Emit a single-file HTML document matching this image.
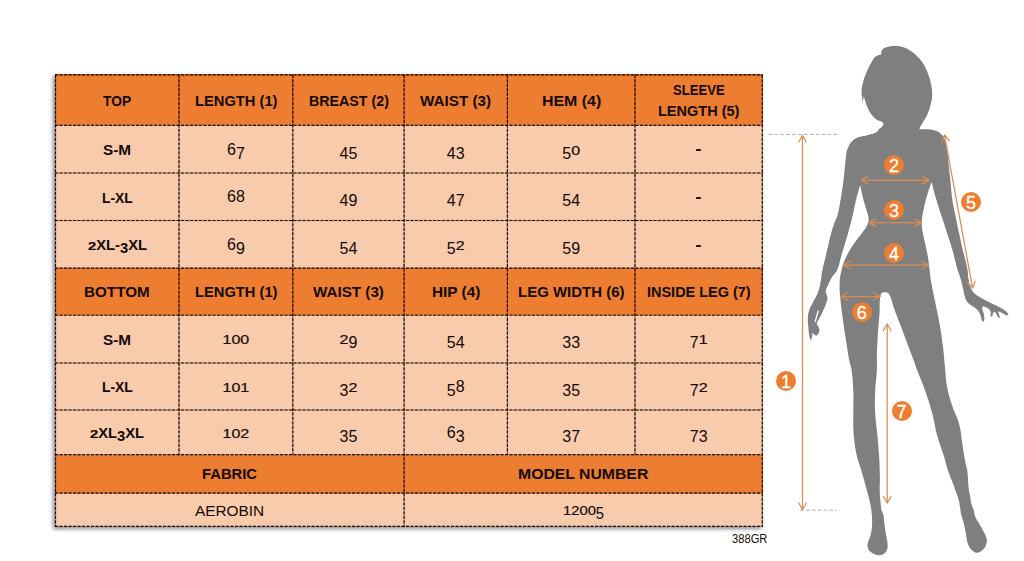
<!DOCTYPE html>
<html><head><meta charset="utf-8"><title>Size chart</title>
<style>
html,body{margin:0;padding:0;background:#fff;}
body{width:1024px;height:561px;position:relative;overflow:hidden;font-family:"Liberation Sans",sans-serif;color:#140a06;}
.bg{position:absolute;}
.o{background:#ED7D31;}
.l{background:#F8CBAD;}
.t{position:absolute;white-space:nowrap;line-height:1;transform-origin:0 0;}
.b{font-weight:bold;}
.d{display:inline-block;line-height:1;}
svg{position:absolute;left:0;top:0;}
</style></head>
<body>
<div class="bg" style="left:55.0px;top:74.3px;width:707.8px;height:452.6px;background:#F8CBAD;box-shadow:-2px 2px 4px rgba(60,62,80,.6)"></div>
<div class="bg o" style="left:55.0px;top:74.3px;width:707.8px;height:51.1px"></div>
<div class="bg l" style="left:55.0px;top:125.4px;width:707.8px;height:47.6px"></div>
<div class="bg l" style="left:55.0px;top:173.0px;width:707.8px;height:47.5px"></div>
<div class="bg l" style="left:55.0px;top:220.5px;width:707.8px;height:47.6px"></div>
<div class="bg o" style="left:55.0px;top:268.1px;width:707.8px;height:47.1px"></div>
<div class="bg l" style="left:55.0px;top:315.2px;width:707.8px;height:47.8px"></div>
<div class="bg l" style="left:55.0px;top:363.0px;width:707.8px;height:47.0px"></div>
<div class="bg l" style="left:55.0px;top:410.0px;width:707.8px;height:44.6px"></div>
<div class="bg o" style="left:55.0px;top:454.6px;width:707.8px;height:38.5px"></div>
<div class="bg l" style="left:55.0px;top:493.1px;width:707.8px;height:33.8px"></div>
<div class="t b" style="left:103.20px;top:94.03px;font-size:14.5px;transform:scaleX(0.9500)">TOP</div>
<div class="t b" style="left:194.65px;top:94.03px;font-size:14.5px;transform:scaleX(1.0142)">LENGTH (1)</div>
<div class="t b" style="left:308.50px;top:94.03px;font-size:14.5px;transform:scaleX(0.9822)">BREAST (2)</div>
<div class="t b" style="left:420.25px;top:94.03px;font-size:14.5px;transform:scaleX(1.0496)">WAIST (3)</div>
<div class="t b" style="left:541.60px;top:94.03px;font-size:14.5px;transform:scaleX(1.0975)">HEM (4)</div>
<div class="t b" style="left:672.85px;top:82.73px;font-size:14.5px;transform:scaleX(0.9021)">SLEEVE</div>
<div class="t b" style="left:657.95px;top:104.23px;font-size:14.5px;transform:scaleX(1.0007)">LENGTH (5)</div>
<div class="t b" style="left:84.40px;top:285.03px;font-size:14.5px;transform:scaleX(1.0501)">BOTTOM</div>
<div class="t b" style="left:194.65px;top:285.03px;font-size:14.5px;transform:scaleX(1.0142)">LENGTH (1)</div>
<div class="t b" style="left:313.00px;top:285.03px;font-size:14.5px;transform:scaleX(1.0482)">WAIST (3)</div>
<div class="t b" style="left:431.55px;top:285.03px;font-size:14.5px;transform:scaleX(1.0597)">HIP (4)</div>
<div class="t b" style="left:517.95px;top:285.03px;font-size:14.5px;transform:scaleX(1.0330)">LEG WIDTH (6)</div>
<div class="t b" style="left:646.80px;top:285.03px;font-size:14.5px;transform:scaleX(0.9975)">INSIDE LEG (7)</div>
<div class="t b" style="left:202.30px;top:467.13px;font-size:14.5px;transform:scaleX(1.0197)">FABRIC</div>
<div class="t b" style="left:518.05px;top:467.33px;font-size:14.5px;transform:scaleX(1.0879)">MODEL NUMBER</div>
<div class="t" style="left:195.20px;top:503.40px;font-size:15px;transform:scaleX(1.0252)">AEROBIN</div>
<div class="t" style="left:562.70px;top:502.26px;font-size:16px;transform:scaleX(0.9218)"><span class="d" style="transform:scaleY(.81);transform-origin:50% 84.65%;-webkit-text-stroke:.25px #140a06">1</span><span class="d" style="transform:scaleY(.81);transform-origin:50% 84.65%;-webkit-text-stroke:.25px #140a06">2</span><span class="d" style="transform:scaleY(.81);transform-origin:50% 84.65%;-webkit-text-stroke:.25px #140a06">0</span><span class="d" style="transform:scaleY(.81);transform-origin:50% 84.65%;-webkit-text-stroke:.25px #140a06">0</span><span class="d" style="transform:translateY(.24em)">5</span></div>
<div class="t" style="left:731.60px;top:533.04px;font-size:12px;transform:scaleX(0.9306)">388GR</div>
<div class="t b" style="left:103.20px;top:143.03px;font-size:14.5px;transform:scaleX(1.0561)">S-M</div>
<div class="t b" style="left:101.90px;top:190.53px;font-size:14.5px;transform:scaleX(0.9537)">L-XL</div>
<div class="t b" style="left:87.80px;top:238.43px;font-size:14.5px;transform:scaleX(1.0155)"><span class="d" style="transform:scaleY(.81);transform-origin:50% 84.65%;-webkit-text-stroke:.25px #140a06">2</span><span class="d">X</span><span class="d">L</span><span class="d">-</span><span class="d" style="transform:translateY(.24em)">3</span><span class="d">X</span><span class="d">L</span></div>
<div class="t b" style="left:103.20px;top:332.73px;font-size:14.5px;transform:scaleX(1.0561)">S-M</div>
<div class="t b" style="left:101.90px;top:380.03px;font-size:14.5px;transform:scaleX(0.9537)">L-XL</div>
<div class="t b" style="left:90.20px;top:426.03px;font-size:14.5px;transform:scaleX(1.0166)"><span class="d" style="transform:scaleY(.81);transform-origin:50% 84.65%;-webkit-text-stroke:.25px #140a06">2</span><span class="d">X</span><span class="d">L</span><span class="d" style="transform:translateY(.24em)">3</span><span class="d">X</span><span class="d">L</span></div>
<div class="t" style="left:227.02px;top:141.66px;font-size:16px;transform:scaleX(1.0000)"><span class="d">6</span><span class="d" style="transform:translateY(.24em)">7</span></div>
<div class="t" style="left:339.57px;top:141.66px;font-size:16px;transform:scaleX(1.0000)"><span class="d" style="transform:translateY(.24em)">4</span><span class="d" style="transform:translateY(.24em)">5</span></div>
<div class="t" style="left:446.87px;top:141.66px;font-size:16px;transform:scaleX(1.0000)"><span class="d" style="transform:translateY(.24em)">4</span><span class="d" style="transform:translateY(.24em)">3</span></div>
<div class="t" style="left:562.32px;top:141.66px;font-size:16px;transform:scaleX(1.0000)"><span class="d" style="transform:translateY(.24em)">5</span><span class="d" style="transform:scaleY(.81);transform-origin:50% 84.65%;-webkit-text-stroke:.25px #140a06">0</span></div>
<div class="bg" style="left:696.0px;top:149px;width:5.2px;height:2px;background:#2a140c;border-radius:.6px"></div>
<div class="t" style="left:227.02px;top:189.16px;font-size:16px;transform:scaleX(1.0000)"><span class="d">6</span><span class="d">8</span></div>
<div class="t" style="left:339.57px;top:189.16px;font-size:16px;transform:scaleX(1.0000)"><span class="d" style="transform:translateY(.24em)">4</span><span class="d" style="transform:translateY(.24em)">9</span></div>
<div class="t" style="left:446.87px;top:189.16px;font-size:16px;transform:scaleX(1.0000)"><span class="d" style="transform:translateY(.24em)">4</span><span class="d" style="transform:translateY(.24em)">7</span></div>
<div class="t" style="left:562.32px;top:189.16px;font-size:16px;transform:scaleX(1.0000)"><span class="d" style="transform:translateY(.24em)">5</span><span class="d" style="transform:translateY(.24em)">4</span></div>
<div class="bg" style="left:696.0px;top:197px;width:5.2px;height:2px;background:#2a140c;border-radius:.6px"></div>
<div class="t" style="left:227.02px;top:237.06px;font-size:16px;transform:scaleX(1.0000)"><span class="d">6</span><span class="d" style="transform:translateY(.24em)">9</span></div>
<div class="t" style="left:339.57px;top:237.06px;font-size:16px;transform:scaleX(1.0000)"><span class="d" style="transform:translateY(.24em)">5</span><span class="d" style="transform:translateY(.24em)">4</span></div>
<div class="t" style="left:446.87px;top:237.06px;font-size:16px;transform:scaleX(1.0000)"><span class="d" style="transform:translateY(.24em)">5</span><span class="d" style="transform:scaleY(.81);transform-origin:50% 84.65%;-webkit-text-stroke:.25px #140a06">2</span></div>
<div class="t" style="left:562.32px;top:237.06px;font-size:16px;transform:scaleX(1.0000)"><span class="d" style="transform:translateY(.24em)">5</span><span class="d" style="transform:translateY(.24em)">9</span></div>
<div class="bg" style="left:696.0px;top:245px;width:5.2px;height:2px;background:#2a140c;border-radius:.6px"></div>
<div class="t" style="left:222.54px;top:331.36px;font-size:16px;transform:scaleX(1.0000)"><span class="d" style="transform:scaleY(.81);transform-origin:50% 84.65%;-webkit-text-stroke:.25px #140a06">1</span><span class="d" style="transform:scaleY(.81);transform-origin:50% 84.65%;-webkit-text-stroke:.25px #140a06">0</span><span class="d" style="transform:scaleY(.81);transform-origin:50% 84.65%;-webkit-text-stroke:.25px #140a06">0</span></div>
<div class="t" style="left:339.57px;top:331.36px;font-size:16px;transform:scaleX(1.0000)"><span class="d" style="transform:scaleY(.81);transform-origin:50% 84.65%;-webkit-text-stroke:.25px #140a06">2</span><span class="d" style="transform:translateY(.24em)">9</span></div>
<div class="t" style="left:446.87px;top:331.36px;font-size:16px;transform:scaleX(1.0000)"><span class="d" style="transform:translateY(.24em)">5</span><span class="d" style="transform:translateY(.24em)">4</span></div>
<div class="t" style="left:562.32px;top:331.36px;font-size:16px;transform:scaleX(1.0000)"><span class="d" style="transform:translateY(.24em)">3</span><span class="d" style="transform:translateY(.24em)">3</span></div>
<div class="t" style="left:689.77px;top:331.36px;font-size:16px;transform:scaleX(1.0000)"><span class="d" style="transform:translateY(.24em)">7</span><span class="d" style="transform:scaleY(.81);transform-origin:50% 84.65%;-webkit-text-stroke:.25px #140a06">1</span></div>
<div class="t" style="left:222.54px;top:378.66px;font-size:16px;transform:scaleX(1.0000)"><span class="d" style="transform:scaleY(.81);transform-origin:50% 84.65%;-webkit-text-stroke:.25px #140a06">1</span><span class="d" style="transform:scaleY(.81);transform-origin:50% 84.65%;-webkit-text-stroke:.25px #140a06">0</span><span class="d" style="transform:scaleY(.81);transform-origin:50% 84.65%;-webkit-text-stroke:.25px #140a06">1</span></div>
<div class="t" style="left:339.57px;top:378.66px;font-size:16px;transform:scaleX(1.0000)"><span class="d" style="transform:translateY(.24em)">3</span><span class="d" style="transform:scaleY(.81);transform-origin:50% 84.65%;-webkit-text-stroke:.25px #140a06">2</span></div>
<div class="t" style="left:446.87px;top:378.66px;font-size:16px;transform:scaleX(1.0000)"><span class="d" style="transform:translateY(.24em)">5</span><span class="d">8</span></div>
<div class="t" style="left:562.32px;top:378.66px;font-size:16px;transform:scaleX(1.0000)"><span class="d" style="transform:translateY(.24em)">3</span><span class="d" style="transform:translateY(.24em)">5</span></div>
<div class="t" style="left:689.77px;top:378.66px;font-size:16px;transform:scaleX(1.0000)"><span class="d" style="transform:translateY(.24em)">7</span><span class="d" style="transform:scaleY(.81);transform-origin:50% 84.65%;-webkit-text-stroke:.25px #140a06">2</span></div>
<div class="t" style="left:222.54px;top:424.66px;font-size:16px;transform:scaleX(1.0000)"><span class="d" style="transform:scaleY(.81);transform-origin:50% 84.65%;-webkit-text-stroke:.25px #140a06">1</span><span class="d" style="transform:scaleY(.81);transform-origin:50% 84.65%;-webkit-text-stroke:.25px #140a06">0</span><span class="d" style="transform:scaleY(.81);transform-origin:50% 84.65%;-webkit-text-stroke:.25px #140a06">2</span></div>
<div class="t" style="left:339.57px;top:424.66px;font-size:16px;transform:scaleX(1.0000)"><span class="d" style="transform:translateY(.24em)">3</span><span class="d" style="transform:translateY(.24em)">5</span></div>
<div class="t" style="left:446.87px;top:424.66px;font-size:16px;transform:scaleX(1.0000)"><span class="d">6</span><span class="d" style="transform:translateY(.24em)">3</span></div>
<div class="t" style="left:562.32px;top:424.66px;font-size:16px;transform:scaleX(1.0000)"><span class="d" style="transform:translateY(.24em)">3</span><span class="d" style="transform:translateY(.24em)">7</span></div>
<div class="t" style="left:689.77px;top:424.66px;font-size:16px;transform:scaleX(1.0000)"><span class="d" style="transform:translateY(.24em)">7</span><span class="d" style="transform:translateY(.24em)">3</span></div>
<svg width="1024" height="561" viewBox="0 0 1024 561">
<g stroke="rgba(50,18,4,.22)" stroke-width="1.3" fill="none">
<line x1="55.0" y1="74.8" x2="762.8" y2="74.8"/>
<line x1="55.0" y1="125.4" x2="762.8" y2="125.4"/>
<line x1="55.0" y1="173.0" x2="762.8" y2="173.0"/>
<line x1="55.0" y1="220.5" x2="762.8" y2="220.5"/>
<line x1="55.0" y1="268.1" x2="762.8" y2="268.1"/>
<line x1="55.0" y1="315.2" x2="762.8" y2="315.2"/>
<line x1="55.0" y1="363.0" x2="762.8" y2="363.0"/>
<line x1="55.0" y1="410.0" x2="762.8" y2="410.0"/>
<line x1="55.0" y1="454.6" x2="762.8" y2="454.6"/>
<line x1="55.0" y1="493.1" x2="762.8" y2="493.1"/>
<line x1="55.0" y1="526.4" x2="762.8" y2="526.4"/>
<line x1="55.5" y1="74.8" x2="55.5" y2="526.4"/>
<line x1="179.0" y1="74.8" x2="179.0" y2="454.6"/>
<line x1="292.8" y1="74.8" x2="292.8" y2="454.6"/>
<line x1="404.1" y1="74.8" x2="404.1" y2="526.4"/>
<line x1="507.4" y1="74.8" x2="507.4" y2="454.6"/>
<line x1="635.0" y1="74.8" x2="635.0" y2="454.6"/>
<line x1="762.3" y1="74.8" x2="762.3" y2="526.4"/>
</g>
<g stroke="#1a0a04" stroke-width="1.15" stroke-dasharray="3.1 1.4" fill="none">
<line x1="55.0" y1="74.8" x2="762.8" y2="74.8"/>
<line x1="55.0" y1="125.4" x2="762.8" y2="125.4"/>
<line x1="55.0" y1="173.0" x2="762.8" y2="173.0"/>
<line x1="55.0" y1="220.5" x2="762.8" y2="220.5"/>
<line x1="55.0" y1="268.1" x2="762.8" y2="268.1"/>
<line x1="55.0" y1="315.2" x2="762.8" y2="315.2"/>
<line x1="55.0" y1="363.0" x2="762.8" y2="363.0"/>
<line x1="55.0" y1="410.0" x2="762.8" y2="410.0"/>
<line x1="55.0" y1="454.6" x2="762.8" y2="454.6"/>
<line x1="55.0" y1="493.1" x2="762.8" y2="493.1"/>
<line x1="55.0" y1="526.4" x2="762.8" y2="526.4"/>
<line x1="55.5" y1="74.8" x2="55.5" y2="526.4"/>
<line x1="179.0" y1="74.8" x2="179.0" y2="454.6"/>
<line x1="292.8" y1="74.8" x2="292.8" y2="454.6"/>
<line x1="404.1" y1="74.8" x2="404.1" y2="526.4"/>
<line x1="507.4" y1="74.8" x2="507.4" y2="454.6"/>
<line x1="635.0" y1="74.8" x2="635.0" y2="454.6"/>
<line x1="762.3" y1="74.8" x2="762.3" y2="526.4"/>
</g>
<g fill="#7f7f7f"><path d="M894.9 45.9C898.4 45.9 899.3 45.8 902.7 46.9C906.5 48.1 907.3 48.6 910.6 50.8C914.4 53.4 915.2 54.2 918.4 57.6C921.4 60.8 922.1 61.7 924.3 65.5C926.7 69.7 927.0 70.8 928.6 75.3C930.1 79.6 930.4 80.6 931.2 85.1C932.0 89.5 932.3 90.5 932.2 94.9C932.1 99.4 931.7 100.4 930.6 104.7C929.5 109.2 929.2 110.2 927.3 114.5C925.5 118.6 924.5 119.3 922.4 123.3C921.0 125.9 920.0 126.3 919.4 129.2C918.4 134.0 923.7 138.7 919.0 140.0C905.9 143.6 892.5 144.1 880.0 140.0C874.7 138.3 880.5 133.2 881.6 127.8C882.0 125.6 884.4 125.1 883.3 123.2C881.9 120.6 879.8 121.8 877.3 120.0C874.4 117.9 873.7 117.3 871.4 114.5C869.2 111.7 869.0 110.8 867.5 107.6C866.1 104.7 866.1 103.9 865.1 100.8C864.4 98.6 863.9 95.9 863.9 95.9C863.9 95.9 862.5 102.7 862.5 102.7C862.5 102.7 862.3 100.6 862.2 98.8C861.9 95.3 861.4 94.5 861.6 91.0C861.8 87.0 862.1 86.1 863.1 82.2C864.3 77.7 864.7 76.7 866.5 72.4C868.4 67.8 869.0 66.8 871.4 62.5C872.9 59.8 872.8 58.7 875.3 56.7C877.5 55.0 881.2 54.7 881.2 54.7C881.2 54.7 880.8 51.6 882.2 49.8C883.7 47.8 884.7 47.7 887.1 46.9C890.5 45.9 891.4 45.9 894.9 45.9Z"/><path d="M900.0 127.0C908.8 127.4 910.6 128.5 919.4 129.2C922.5 129.5 923.2 129.0 926.3 129.2C929.8 129.4 930.7 129.2 934.1 130.2C936.9 131.0 937.7 131.3 940.0 133.1C942.2 134.9 942.7 135.4 943.9 138.0C945.4 141.3 945.9 142.2 945.9 145.9C945.9 154.5 947.2 157.0 944.0 165.0C940.5 173.9 931.5 182.2 931.5 182.2C931.5 182.2 929.2 188.1 927.8 193.0C925.6 200.7 925.1 202.4 923.5 210.2C922.4 215.9 921.8 217.2 921.8 223.0C921.8 228.9 922.5 230.2 923.5 236.0C924.7 242.8 925.5 244.2 926.8 251.0C927.9 256.8 928.1 258.1 928.9 264.0C930.0 271.9 929.8 273.7 931.1 281.5C932.7 291.2 933.5 293.3 935.4 303.0C937.3 312.6 938.0 314.7 939.7 324.4C941.4 334.1 941.7 336.2 942.9 346.0C944.1 355.6 944.0 357.8 945.0 367.4C945.9 376.3 945.5 378.4 947.2 387.2C948.9 396.0 949.7 397.9 952.5 406.5C955.0 414.4 956.9 415.7 959.0 423.7C961.3 432.2 960.8 434.3 962.2 443.0C963.6 451.7 963.8 453.7 965.4 462.4C966.0 465.9 966.8 466.5 967.2 470.0C968.3 479.0 967.9 481.4 968.9 490.0C969.2 492.7 969.6 493.2 970.1 495.9C970.8 499.8 970.6 500.7 971.6 504.6C972.3 507.3 973.0 507.8 973.8 510.5C974.6 513.1 974.2 513.9 975.2 516.4C976.5 519.6 977.2 520.0 978.9 523.0C980.9 526.6 981.5 527.3 983.3 531.0C984.9 534.2 985.7 534.8 986.5 538.3C987.1 540.9 987.0 541.7 986.2 544.2C985.2 547.2 984.8 547.9 982.6 550.1C980.7 551.9 980.0 552.3 977.4 552.7C975.7 553.0 975.2 552.5 973.8 551.5C971.5 549.9 970.9 549.5 969.4 547.1C967.9 544.8 967.9 544.0 967.2 541.3C966.2 537.4 966.5 536.4 965.7 532.5C964.8 527.8 964.6 526.8 963.5 522.2C962.7 518.9 962.1 518.2 961.3 514.9C960.5 511.7 960.7 510.9 960.1 507.6C959.4 503.6 959.5 502.7 958.4 498.8C957.3 494.7 956.6 494.0 955.2 490.0C954.4 487.8 954.4 487.2 953.6 485.0C951.1 478.3 950.1 476.9 947.8 470.0C945.7 463.8 945.8 462.2 943.9 456.0C941.2 447.2 939.9 445.5 937.5 436.6C934.6 426.1 935.0 423.5 932.1 413.0C929.2 402.2 928.3 399.9 924.6 389.3C921.5 380.5 920.4 378.7 917.1 370.0C915.6 366.0 915.4 365.0 913.9 361.0C911.0 353.2 910.3 351.5 907.4 343.8C904.5 336.1 903.9 334.3 901.0 326.6C898.1 318.9 897.3 317.2 894.5 309.4C892.0 302.7 892.4 300.1 889.2 294.4C888.2 292.6 887.1 292.3 885.0 292.3C882.9 292.3 881.3 292.4 880.8 294.4C879.0 301.5 880.1 305.0 879.5 313.7C878.8 323.4 878.4 325.5 877.8 335.2C877.2 344.9 877.2 347.0 876.9 356.7C876.7 362.7 877.2 364.0 876.9 370.0C876.4 379.7 875.6 381.8 875.2 391.5C874.8 401.2 874.7 403.3 875.2 413.0C875.7 422.7 876.4 424.8 877.3 434.5C878.2 444.2 878.5 446.3 879.1 456.0C879.7 465.6 879.7 467.8 879.9 477.4C880.0 483.1 879.6 484.3 879.7 490.0C879.8 495.3 880.0 496.4 880.5 501.7C880.8 505.7 881.5 510.5 881.5 510.5C881.5 510.5 882.9 512.8 883.4 514.9C884.3 518.8 883.9 519.7 884.4 523.7C885.0 528.3 885.2 529.3 885.9 533.9C886.5 537.9 887.2 538.7 887.4 542.7C887.6 546.0 888.1 547.0 886.9 550.1C886.0 552.5 885.3 553.1 883.0 554.2C880.6 555.4 879.7 555.3 877.1 554.9C874.2 554.4 873.5 554.1 871.2 552.3C869.2 550.8 868.7 550.2 867.9 547.9C867.1 545.7 867.4 545.0 867.9 542.7C868.6 539.3 869.7 538.8 870.5 535.4C871.6 530.9 871.7 529.8 872.0 525.2C872.3 519.9 872.2 518.7 871.7 513.4C871.2 508.1 870.9 506.9 869.8 501.7C868.7 496.4 868.2 495.2 866.8 490.0C864.4 481.0 863.8 479.0 861.2 470.0C859.4 463.7 858.3 462.4 856.9 456.0C854.9 446.4 854.5 444.2 853.7 434.5C852.9 424.9 853.4 422.7 853.3 413.0C853.2 403.3 853.7 401.2 853.3 391.5C852.9 381.8 852.8 379.6 851.6 370.0C851.1 365.9 850.2 365.1 849.4 361.0C847.7 352.3 847.6 350.3 846.2 341.6C844.7 332.0 844.3 329.8 843.0 320.2C841.7 310.5 841.2 308.4 840.4 298.7C839.7 291.0 839.4 289.2 839.7 281.5C839.9 276.3 840.4 275.1 841.6 270.0C842.6 265.6 842.9 264.7 844.6 260.5C846.3 256.2 846.9 255.3 849.2 251.2C851.6 246.9 852.3 246.0 855.1 242.0C858.1 237.7 859.1 237.0 862.2 232.7C864.4 229.6 865.3 229.1 866.9 225.7C868.2 222.8 868.7 222.0 868.6 218.8C868.4 214.5 867.4 213.7 866.3 209.5C864.9 204.3 864.3 203.2 863.0 197.9C861.6 192.3 860.2 185.3 860.2 185.3C860.2 185.3 853.7 176.2 850.0 168.0C847.4 162.3 846.7 160.8 846.4 154.5C846.2 150.7 847.3 149.8 848.8 146.3C849.9 143.7 850.3 143.1 852.3 141.1C854.3 139.1 854.9 138.6 857.6 137.5C861.6 135.9 862.8 136.4 867.0 135.2C871.2 134.0 872.4 134.3 876.3 132.3C879.1 130.8 878.5 128.3 881.6 127.6C889.5 125.8 891.7 126.6 900.0 127.0Z"/><path d="M860.0 143.0C860.0 143.0 846.4 154.5 846.4 154.5C846.4 154.5 845.7 159.0 845.3 162.7C844.5 170.2 844.5 171.9 843.6 179.4C843.0 184.6 842.8 185.8 842.0 191.0C841.2 196.2 841.0 197.4 840.1 202.6C839.2 207.8 839.2 209.1 837.8 214.2C836.6 218.5 835.8 219.2 834.3 223.4C832.8 227.5 832.5 228.5 831.3 232.7C829.9 237.9 829.7 239.1 828.5 244.3C827.3 249.5 827.0 250.7 825.8 255.9C824.3 262.3 823.7 263.6 822.4 270.0C821.4 275.1 821.7 276.3 820.7 281.4C819.7 286.6 819.6 287.8 817.8 292.8C816.3 296.9 815.4 297.5 813.5 301.4C811.6 305.2 810.6 305.9 809.3 309.9C808.1 313.6 808.0 314.6 807.8 318.5C807.6 322.3 808.0 323.2 808.3 327.0C808.6 330.9 808.7 331.7 809.3 335.6C809.6 337.7 810.3 340.2 810.3 340.2C810.3 340.2 811.7 338.6 812.1 337.0C812.6 335.1 812.1 332.7 812.1 332.7C812.1 332.7 814.0 334.7 815.7 335.6C816.3 335.9 816.7 335.8 817.1 335.3C818.3 333.9 819.0 333.3 819.3 331.3C819.6 329.4 819.1 328.9 818.5 327.0C818.0 325.3 816.6 325.2 816.8 323.5C817.0 321.0 818.2 320.8 819.3 318.5C820.9 315.3 821.3 314.6 822.8 311.4C824.5 307.6 825.1 306.8 826.4 302.8C827.2 300.3 827.6 299.7 827.4 297.1C827.2 294.4 825.6 294.1 825.7 291.4C825.8 288.7 826.7 288.2 827.8 285.7C829.6 281.8 829.9 280.8 832.1 277.1C834.1 273.7 835.6 273.6 837.2 270.0C839.7 264.4 839.3 262.8 841.0 257.0C842.7 251.3 843.1 250.0 844.8 244.3C846.3 239.1 846.7 237.9 848.2 232.7C849.7 227.5 850.0 226.3 851.3 221.1C852.6 215.9 852.8 214.7 854.0 209.5C855.2 204.3 855.2 203.1 856.5 197.9C858.0 192.2 860.2 185.3 860.2 185.3C860.2 185.3 866.0 170.0 866.0 170.0C866.0 170.0 860.0 143.0 860.0 143.0Z"/><path d="M936.0 140.0C936.0 140.0 945.9 145.9 945.9 145.9C945.9 145.9 947.0 149.0 947.4 151.6C948.2 156.8 948.1 158.0 948.6 163.2C949.1 168.4 949.3 169.6 949.8 174.8C950.3 180.0 950.4 181.1 950.9 186.3C951.4 191.5 951.5 192.7 952.1 197.9C952.5 201.1 952.6 201.8 953.2 204.9C954.2 210.1 954.5 211.3 955.6 216.5C957.1 223.8 957.4 225.4 959.0 232.7C960.6 240.0 960.8 241.6 962.5 248.9C963.7 253.9 964.2 255.0 965.4 260.0C966.5 264.5 966.8 265.5 967.5 270.0C968.2 274.5 967.9 275.5 968.7 280.0C969.3 283.4 969.2 284.3 970.6 287.5C971.8 290.3 972.2 291.0 974.3 293.1C977.0 295.8 977.9 296.1 981.2 298.1C985.0 300.3 986.0 300.5 989.9 302.4C993.9 304.4 994.8 304.7 998.7 306.8C1001.6 308.3 1002.3 308.5 1004.9 310.5C1006.8 311.9 1008.6 314.3 1008.6 314.3C1008.6 314.3 1007.8 315.7 1006.8 315.5C1004.7 315.1 1004.4 314.0 1002.4 313.0C1000.5 312.1 998.0 311.2 998.0 311.2C998.0 311.2 998.8 313.2 999.3 314.9C999.7 316.3 999.9 318.0 999.9 318.0C999.9 318.0 998.9 318.1 998.4 317.6C997.2 316.2 997.3 315.4 996.2 313.7C995.4 312.5 994.3 311.2 994.3 311.2C994.3 311.2 993.5 312.5 993.0 313.7C992.5 314.9 992.2 316.4 992.2 316.4C992.2 316.4 990.8 316.9 990.6 316.2C990.1 314.7 991.3 313.6 990.6 311.8C989.8 309.7 989.2 309.3 987.4 308.0C985.7 306.7 983.1 306.2 983.1 306.2C983.1 306.2 982.1 307.5 982.2 308.7C982.4 311.0 983.3 311.4 983.7 313.7C984.2 316.5 984.5 317.2 984.3 319.9C984.2 320.9 983.1 321.8 983.1 321.8C983.1 321.8 982.2 320.9 981.8 319.9C980.7 317.2 981.2 316.3 979.9 313.7C978.6 311.2 978.2 310.6 976.2 308.7C974.0 306.6 973.0 306.8 970.6 304.9C968.7 303.4 968.1 303.2 966.8 301.2C965.2 298.6 965.3 297.8 964.4 294.9C963.6 292.2 963.8 291.5 963.1 288.7C962.0 284.2 961.9 283.2 960.6 278.7C959.1 273.6 958.4 272.6 956.9 267.5C955.9 264.2 955.9 263.4 955.0 260.0C953.8 255.3 953.7 254.2 952.3 249.5C950.1 241.9 949.4 240.2 947.0 232.7C944.6 225.2 943.9 223.5 941.5 216.0C938.8 207.7 938.1 205.9 935.7 197.6C933.7 190.6 931.6 182.0 931.6 182.0C931.6 182.0 928.3 172.8 928.0 165.0C927.6 153.7 927.3 148.3 930.0 140.0C930.8 137.4 936.0 140.0 936.0 140.0Z"/></g><path d="M818.2 311 L815.2 321.5" stroke="#fff" stroke-width="1.3" stroke-linecap="round" fill="none"/>
<g stroke="#9a9a9a" stroke-width="0.8" stroke-dasharray="3.8 2.1" fill="none"><line x1="768.5" y1="134.4" x2="837" y2="134.4"/><line x1="800" y1="510.2" x2="836.5" y2="510.2"/></g>
<g stroke="#DB8D50" stroke-width="1.25" fill="none" stroke-linecap="round" stroke-linejoin="round"><path d="M802.5 135.5L802.5 509.5M798.7 503.0L802.5 509.5L806.3 503.0M798.7 142.0L802.5 135.5L806.3 142.0"/><path d="M861.2 180.3L929.0 180.3M922.5 184.1L929.0 180.3L922.5 176.5M867.7 184.1L861.2 180.3L867.7 176.5"/><path d="M869.4 222.6L921.4 222.6M914.9 226.4L921.4 222.6L914.9 218.8M875.9 226.4L869.4 222.6L875.9 218.8"/><path d="M843.8 265.0L928.5 265.0M922.0 268.8L928.5 265.0L922.0 261.2M850.3 268.8L843.8 265.0L850.3 261.2"/><path d="M944.5 135.0L972.6 288.2M967.7 282.5L972.6 288.2L975.2 281.1M941.9 142.1L944.5 135.0L949.4 140.7"/><path d="M841.0 296.5L880.0 296.5M873.5 300.3L880.0 296.5L873.5 292.7M847.5 300.3L841.0 296.5L847.5 292.7"/><path d="M887.2 324.0L887.2 503.0M883.4 496.5L887.2 503.0L891.0 496.5M883.4 330.5L887.2 324.0L891.0 330.5"/></g>
</svg>
<div style="position:absolute;left:775.9px;top:371.1px;width:20px;height:20px;border-radius:50%;background:#ED7D31;color:#fff;font-size:18px;line-height:22.6px;text-align:center;-webkit-text-stroke:.3px #fff">1</div><div style="position:absolute;left:883.9px;top:155.4px;width:20px;height:20px;border-radius:50%;background:#ED7D31;color:#fff;font-size:18px;line-height:22.6px;text-align:center;-webkit-text-stroke:.3px #fff">2</div><div style="position:absolute;left:883.9px;top:199.5px;width:20px;height:20px;border-radius:50%;background:#ED7D31;color:#fff;font-size:18px;line-height:22.6px;text-align:center;-webkit-text-stroke:.3px #fff">3</div><div style="position:absolute;left:883.9px;top:242.7px;width:20px;height:20px;border-radius:50%;background:#ED7D31;color:#fff;font-size:18px;line-height:22.6px;text-align:center;-webkit-text-stroke:.3px #fff">4</div><div style="position:absolute;left:961.1px;top:192.4px;width:20px;height:20px;border-radius:50%;background:#ED7D31;color:#fff;font-size:18px;line-height:22.6px;text-align:center;-webkit-text-stroke:.3px #fff">5</div><div style="position:absolute;left:851.7px;top:302.2px;width:20px;height:20px;border-radius:50%;background:#ED7D31;color:#fff;font-size:18px;line-height:22.6px;text-align:center;-webkit-text-stroke:.3px #fff">6</div><div style="position:absolute;left:891.6px;top:400.8px;width:20px;height:20px;border-radius:50%;background:#ED7D31;color:#fff;font-size:18px;line-height:22.6px;text-align:center;-webkit-text-stroke:.3px #fff">7</div><div style="position:absolute;left:782.3px;top:386.9px;width:7.6px;height:1.5px;background:#fff"></div>
</body></html>
